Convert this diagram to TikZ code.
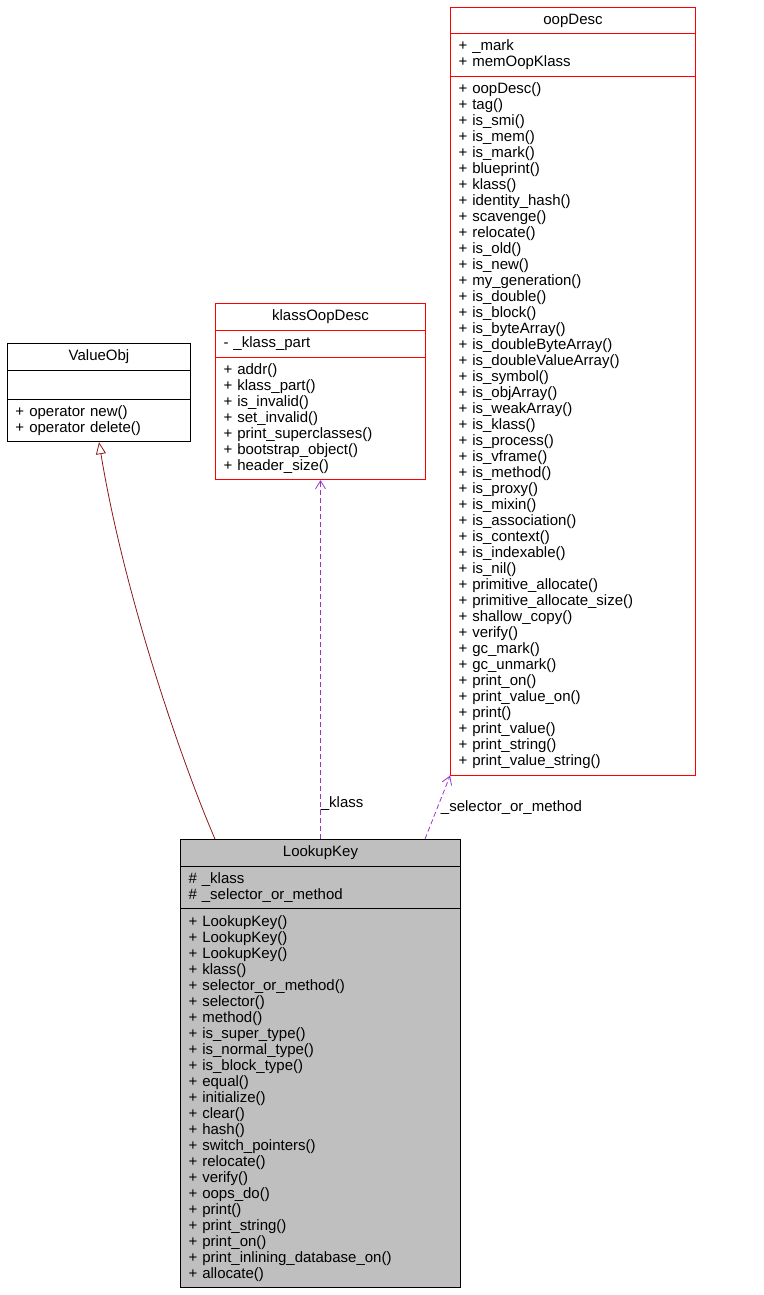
\documentclass[tikz,border=0pt]{standalone}
\usepackage{fontspec}
\setmainfont{Liberation Sans}
\usetikzlibrary{shapes.multipart,arrows.meta}
\definecolor{edgered}{HTML}{8B1A1A}
\definecolor{usepurple}{HTML}{9A32CD}
\definecolor{boxgrey}{HTML}{BFBFBF}
\begin{document}
\begin{tikzpicture}[x=1pt,y=-1pt,
    cls/.style={rectangle split, rectangle split parts=3, draw, anchor=north,
      inner xsep=8pt, inner ysep=6pt, font=\fontsize{15}{16}\selectfont,
      line width=0.8pt},
    usage/.style={usepurple, dash pattern=on 5pt off 3pt, line width=0.8pt,
      -{Straight Barb[length=8pt,width=10pt]}},
    lbl/.style={font=\fontsize{15}{16}\selectfont, inner sep=0pt}]
  \useasboundingbox (0,0) rectangle (763,1295);
  % classes
  \node[cls, text width=167pt] (valueobj) at (99,343)
    {\centering ValueObj\par\nodepart{two}\strut\nodepart{three}\raggedright+ operator new()\\+ operator delete()};
  \node[cls, draw=red, text width=194pt] (klassoop) at (320.5,303)
    {\centering klassOopDesc\par\nodepart{two}\raggedright- \_klass\_part\nodepart{three}\raggedright+ addr()\\+ klass\_part()\\+ is\_invalid()\\+ set\_invalid()\\+ print\_superclasses()\\+ bootstrap\_object()\\+ header\_size()};
  \node[cls, draw=red, text width=229pt] (oopdesc) at (573,7)
    {\centering oopDesc\par\nodepart{two}\raggedright+ \_mark\\+ memOopKlass\nodepart{three}\raggedright+ oopDesc()\\+ tag()\\+ is\_smi()\\+ is\_mem()\\+ is\_mark()\\+ blueprint()\\+ klass()\\+ identity\_hash()\\+ scavenge()\\+ relocate()\\+ is\_old()\\+ is\_new()\\+ my\_generation()\\+ is\_double()\\+ is\_block()\\+ is\_byteArray()\\+ is\_doubleByteArray()\\+ is\_doubleValueArray()\\+ is\_symbol()\\+ is\_objArray()\\+ is\_weakArray()\\+ is\_klass()\\+ is\_process()\\+ is\_vframe()\\+ is\_method()\\+ is\_proxy()\\+ is\_mixin()\\+ is\_association()\\+ is\_context()\\+ is\_indexable()\\+ is\_nil()\\+ primitive\_allocate()\\+ primitive\_allocate\_size()\\+ shallow\_copy()\\+ verify()\\+ gc\_mark()\\+ gc\_unmark()\\+ print\_on()\\+ print\_value\_on()\\+ print()\\+ print\_value()\\+ print\_string()\\+ print\_value\_string()};
  \node[cls, fill=boxgrey, text width=264pt] (lookupkey) at (320.5,839)
    {\centering LookupKey\par\nodepart{two}\raggedright\# \_klass\\\# \_selector\_or\_method\nodepart{three}\raggedright+ LookupKey()\\+ LookupKey()\\+ LookupKey()\\+ klass()\\+ selector\_or\_method()\\+ selector()\\+ method()\\+ is\_super\_type()\\+ is\_normal\_type()\\+ is\_block\_type()\\+ equal()\\+ initialize()\\+ clear()\\+ hash()\\+ switch\_pointers()\\+ relocate()\\+ verify()\\+ oops\_do()\\+ print()\\+ print\_string()\\+ print\_on()\\+ print\_inlining\_database\_on()\\+ allocate()};
  % connectors
  \coordinate (inh) at (lookupkey.north -| 215,0);
  \coordinate (sel) at (lookupkey.north -| 425,0);
  \draw[edgered, line width=0.8pt, -{Triangle[open,length=12pt,width=10pt]}]
    (inh) .. controls (185,770) and (125,600) .. (valueobj.south);
  \draw[usage] (lookupkey.north) -- node[lbl, black, anchor=west, pos=0.1] {\_klass} (klassoop.south);
  \draw[usage] (sel) -- node[lbl, black, anchor=west, pos=0.5, xshift=3pt] {\_selector\_or\_method} (oopdesc.south west);
\end{tikzpicture}
\end{document}
